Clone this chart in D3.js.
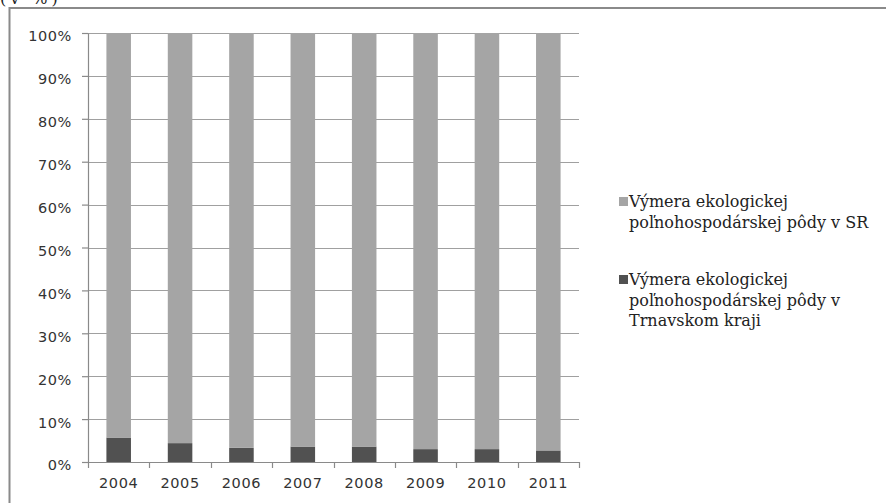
<!DOCTYPE html>
<html><head><meta charset="utf-8">
<script src="https://cdn.jsdelivr.net/npm/d3@7"></script>
<style>
html,body{margin:0;padding:0;background:#fff;overflow:hidden;}
.serif{font-family:"DejaVu Serif",serif;}
.sans{font-family:"DejaVu Sans",Verdana,sans-serif;}
</style></head>
<body>
<svg id="c" width="886" height="503"></svg>
<script>
const years = ["2004","2005","2006","2007","2008","2009","2010","2011"];
const trnava = [5.7, 4.4, 3.3, 3.6, 3.6, 3.0, 3.0, 2.7];
const sr = [94.3, 95.6, 96.7, 96.4, 96.4, 97.0, 97.0, 97.3];
const yTicks = [0,10,20,30,40,50,60,70,80,90,100];
const legendLines = [["Výmera ekologickej","poľnohospodárskej pôdy v SR"],
                     ["Výmera ekologickej","poľnohospodárskej pôdy v","Trnavskom kraji"]];
const colors = {sr:"#a5a5a5", trnava:"#515151"};

const svg = d3.select("#c");
// outer frame
svg.append("text").attr("class","serif").attr("x",0).attr("y",4)
  .attr("font-size",16).attr("letter-spacing",4).attr("fill","#222").text("(v %)");
svg.append("rect").attr("x",9.5).attr("y",8).attr("width",900).attr("height",600)
  .attr("fill","none").attr("stroke","#8a8a8a").attr("stroke-width",2);

const xb = d3.scaleBand().domain(years).range([88,579]);
const y = d3.scaleLinear().domain([0,100]).range([462,33]);

// gridlines
svg.append("g").selectAll("line").data(yTicks).join("line")
  .attr("x1",88).attr("x2",579).attr("y1",d=>Math.round(y(d))+0.5).attr("y2",d=>Math.round(y(d))+0.5)
  .attr("stroke","#a0a0a0").attr("stroke-width",1.2);

const stackData = years.map((yr,i)=>({year:yr, trnava:trnava[i], sr:sr[i]}));
const stack = d3.stack().keys(["trnava","sr"])(stackData);
const bw = xb.bandwidth()/2.5;
svg.append("g").selectAll("g").data(stack).join("g").attr("fill",d=>colors[d.key])
  .selectAll("rect").data(d=>d).join("rect")
  .attr("x",d=>xb(d.data.year)+xb.bandwidth()/2-bw/2).attr("width",bw)
  .attr("y",d=>y(d[1])).attr("height",d=>y(d[0])-y(d[1]));

// y axis
const ya = svg.append("g").attr("transform","translate(88,0)")
  .call(d3.axisLeft(y).tickValues(yTicks).tickFormat(d=>d+"%").tickSize(6).tickSizeOuter(0));
ya.select(".domain").attr("stroke","#8a8a8a").attr("stroke-width",1.2);
ya.selectAll(".tick line").attr("stroke","#8a8a8a").attr("stroke-width",1.2);
ya.selectAll(".tick text").attr("class","sans").attr("font-size",14.5)
  .attr("letter-spacing",0.6).attr("fill","#333").attr("x",-16).attr("dy","0.55em");

// x axis
const xa = svg.append("g").attr("transform","translate(0,462)")
  .call(d3.axisBottom(xb).tickSize(0).tickSizeOuter(0));
xa.select(".domain").attr("stroke","#8a8a8a").attr("stroke-width",1.2);
xa.selectAll(".tick text").attr("class","sans").attr("font-size",14.5)
  .attr("letter-spacing",0.6).attr("fill","#333").attr("y",16).attr("dy","0.71em");
// category boundary ticks
const bounds = years.map(d=>xb(d)).concat([579]);
svg.append("g").selectAll("line").data(bounds).join("line")
  .attr("x1",d=>Math.round(d)+0.5).attr("x2",d=>Math.round(d)+0.5).attr("y1",462).attr("y2",468)
  .attr("stroke","#8a8a8a").attr("stroke-width",1.2);

// legend
const lg = [{key:"sr", y:207},{key:"trnava", y:285}];
lg.forEach((l,i)=>{
  svg.append("rect").attr("x",619).attr("y",l.y-10).attr("width",9).attr("height",9).attr("fill",colors[l.key]);
  const t = svg.append("text").attr("class","serif").attr("font-size",16)
    .attr("letter-spacing",0).attr("fill","#222");
  legendLines[i].forEach((s,j)=>{
    t.append("tspan").attr("x",629).attr("y",l.y+j*20.5).text(s);
  });
});
</script>
</body></html>
